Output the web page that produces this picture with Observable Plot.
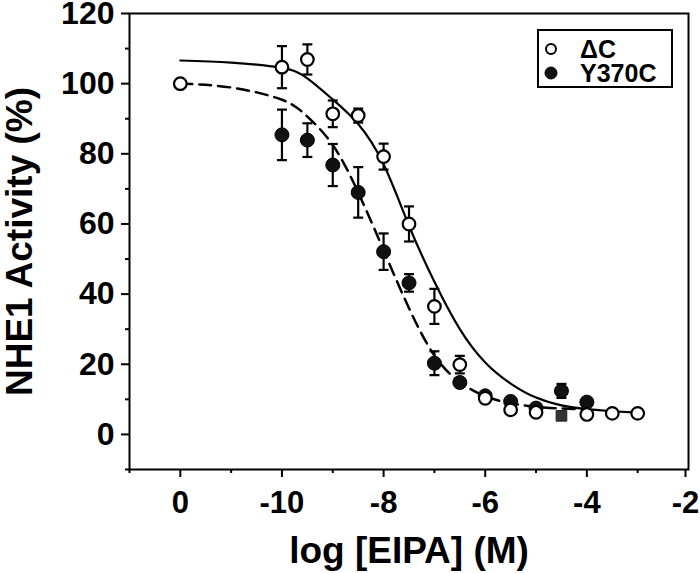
<!DOCTYPE html>
<html><head><meta charset="utf-8">
<script src="https://cdn.jsdelivr.net/npm/d3@7"></script>
<script src="https://cdn.jsdelivr.net/npm/@observablehq/plot@0.6"></script>
<style>
body{margin:0;background:#fff;}
#wrap{position:relative;width:700px;height:573px;font-family:"Liberation Sans",Arial,Helvetica,sans-serif;}
#legend{position:absolute;left:537px;top:29px;width:132px;height:55px;border:2px solid #000;background:#fff;}
</style></head><body><div id="wrap"></div>
<script>
// ---- data ----
const xTicks = [-12, -10, -8, -6, -4];
const xTickLabels = ["0", "-10", "-8", "-6", "-4"];
const xEndTick = [-2];
const xEndLabel = ["-2"];
const xMinor = [-13, -11, -9, -7, -5, -3];
const yTicks = [0, 20, 40, 60, 80, 100, 120];
const yMinor = [-10, 10, 30, 50, 70, 90, 110];

const seriesNames = ["\u0394C", "Y370C"];

// ΔC (open circles)
const dcX = [-12, -10, -9.5, -9, -8.5, -8, -7.5, -7, -6.5, -6, -5.5, -5, -4, -3.5, -3];
const dcY = [100, 104.7, 106.9, 91.4, 90.9, 79.2, 60, 36.5, 19.9, 10.3, 7.0, 6.3, 5.7, 6.0, 6.0];
const dcErr = [0, 6, 4.3, 3.8, 2, 3.7, 5, 5, 2.5, 0, 0, 0, 0, 0, 0];

// dark square marker
const sqX = [-4.5];
const sqY = [5.3];

// Y370C (filled circles)
const ycX = [-10, -9.5, -9, -8.5, -8, -7.5, -7, -6.5, -6, -5.5, -5, -4.5, -4];
const ycY = [85.4, 83.9, 76.8, 69.0, 52.1, 43.2, 20.3, 14.8, 11.0, 9.4, 7.5, 12.4, 9.2];
const ycErr = [7.2, 4.8, 6, 7.2, 5.2, 2.5, 3.4, 0, 0, 0, 0, 2, 0];

// fitted curves
const dcFitX = [-12, -11, -10, -9.5, -9, -8.5, -8, -7.5, -7, -6.5, -6, -5.5, -5, -4.5, -4, -3.5, -3];
const dcFitY = [106.6, 106, 104.5, 101.5, 95.5, 88.5, 77, 59.5, 43.5, 30, 20.5, 14.5, 10.5, 8.3, 7.2, 6.6, 6.2];
const ycFitX = [-12, -11, -10, -9.5, -9, -8.5, -8, -7.5, -7, -6.5, -6, -5.5, -5, -4.5, -4];
const ycFitY = [100, 98.9, 95.4, 90.6, 82.5, 69, 52.5, 36, 22.5, 14.9, 10.9, 8.9, 7.9, 7.4, 7.2];

// ---- build tables ----
const dc = dcX.map((x, i) => ({x, y: dcY[i], e: dcErr[i]}));
const yc = ycX.map((x, i) => ({x, y: ycY[i], e: ycErr[i]}));
const sq = sqX.map((x, i) => ({x, y: sqY[i]}));
const dcFit = dcFitX.map((x, i) => ({x, y: dcFitY[i]}));
const ycFit = ycFitX.map((x, i) => ({x, y: ycFitY[i]}));
const dcE = dc.filter(d => d.e > 0);
const ycE = yc.filter(d => d.e > 0);

const cap = {draw(ctx) { ctx.moveTo(-5, 0); ctx.lineTo(5, 0); }};
const bold = {fontWeight: "bold"};

const chart = Plot.plot({
  width: 700,
  height: 573,
  marginLeft: 129,
  marginRight: 12,
  marginTop: 13,
  marginBottom: 104,
  style: {fontFamily: "'Liberation Sans', Arial, Helvetica, sans-serif", background: "#fff", color: "#000"},
  x: {domain: [-13, -2]},
  y: {domain: [-10, 120]},
  marks: [
    Plot.line(dcFit, {x: "x", y: "y", curve: "natural", stroke: "#000", strokeWidth: 2.2}),
    Plot.line(ycFit, {x: "x", y: "y", curve: "natural", stroke: "#000", strokeWidth: 2.5, strokeDasharray: "12,7"}),
    // Y370C error bars + points
    Plot.ruleX(ycE, {x: "x", y1: d => d.y - d.e, y2: d => d.y + d.e, stroke: "#000", strokeWidth: 2.2}),
    Plot.dot(ycE, {x: "x", y: d => d.y + d.e, symbol: cap, r: 5, fill: "none", stroke: "#000", strokeWidth: 2.2}),
    Plot.dot(ycE, {x: "x", y: d => d.y - d.e, symbol: cap, r: 5, fill: "none", stroke: "#000", strokeWidth: 2.2}),
    Plot.dot(yc, {x: "x", y: "y", r: 7, fill: "#111", stroke: "#000", strokeWidth: 1}),
    // ΔC error bars + points
    Plot.ruleX(dcE, {x: "x", y1: d => d.y - d.e, y2: d => d.y + d.e, stroke: "#000", strokeWidth: 2.2}),
    Plot.dot(dcE, {x: "x", y: d => d.y + d.e, symbol: cap, r: 5, fill: "none", stroke: "#000", strokeWidth: 2.2}),
    Plot.dot(dcE, {x: "x", y: d => d.y - d.e, symbol: cap, r: 5, fill: "none", stroke: "#000", strokeWidth: 2.2}),
    Plot.dot(dc, {x: "x", y: "y", r: 6.3, fill: "#fff", stroke: "#000", strokeWidth: 2.2}),
    Plot.dot(sq, {x: "x", y: "y", symbol: "square", r: 6, fill: "#333", stroke: "#222", strokeWidth: 1}),
    // axes
    Plot.frame({stroke: "#000", strokeWidth: 2}),
    Plot.axisX(xTicks, {tickSize: 8, tickPadding: 13, tickFormat: d => xTickLabels[xTicks.indexOf(d)], fontSize: 31, ...bold, strokeWidth: 2, label: null}),
    Plot.axisX(xEndTick, {tickSize: 8, tickPadding: 13, tickFormat: d => xEndLabel[xEndTick.indexOf(d)], fontSize: 31, ...bold, strokeWidth: 2, label: null, dx: -3}),
    Plot.axisX(xMinor, {tickSize: 4, text: null, strokeWidth: 2, label: null}),
    Plot.axisY(yTicks, {tickSize: 8, tickPadding: 7, fontSize: 32, ...bold, strokeWidth: 2, label: null}),
    Plot.axisY(yMinor, {tickSize: 4, text: null, strokeWidth: 2, label: null}),
    // axis titles
    Plot.text(["log [EIPA] (M)"], {text: d => d, frameAnchor: "bottom", textAnchor: "middle", lineAnchor: "top", dy: 67, fontSize: 37, ...bold}),
    Plot.text(["NHE1 Activity (%)"], {text: d => d, frameAnchor: "left", textAnchor: "middle", rotate: -90, dx: -109, lineAnchor: "middle", fontSize: 37, ...bold})
  ]
});

const wrap = document.getElementById("wrap");
wrap.appendChild(chart);

// legend
const legend = document.createElement("div");
legend.id = "legend";
const ns = "http://www.w3.org/2000/svg";
const lsvg = document.createElementNS(ns, "svg");
lsvg.setAttribute("width", "132");
lsvg.setAttribute("height", "55");
const rows = [{y: 18, fill: "#fff", r: 5, sw: 2}, {y: 42, fill: "#111", r: 6, sw: 1}];
rows.forEach((row, i) => {
  const c = document.createElementNS(ns, "circle");
  c.setAttribute("cx", "12");
  c.setAttribute("cy", row.y);
  c.setAttribute("r", row.r);
  c.setAttribute("fill", row.fill);
  c.setAttribute("stroke", "#000");
  c.setAttribute("stroke-width", row.sw);
  lsvg.appendChild(c);
  const t = document.createElementNS(ns, "text");
  t.setAttribute("x", "41");
  t.setAttribute("y", row.y);
  t.setAttribute("dy", "0.36em");
  t.setAttribute("font-size", "25");
  t.setAttribute("font-weight", "bold");
  t.setAttribute("font-family", "'Liberation Sans', Arial, sans-serif");
  t.textContent = seriesNames[i];
  lsvg.appendChild(t);
});
legend.appendChild(lsvg);
wrap.appendChild(legend);
</script></body></html>
